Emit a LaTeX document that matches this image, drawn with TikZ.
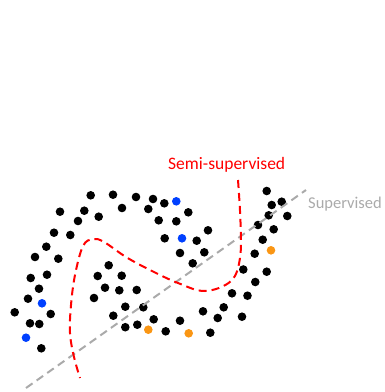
\documentclass[tikz,border=0pt]{standalone}
\usepackage{fontspec}
\setmainfont{Carlito}
\definecolor{dotblue}{RGB}{0,64,255}
\definecolor{dotorange}{RGB}{250,150,20}
\definecolor{lgray}{RGB}{170,170,170}
\definecolor{cred}{RGB}{255,0,0}
\begin{document}
\begin{tikzpicture}[x=1pt,y=-1pt,
  lbl/.style={inner sep=0pt,font=\fontsize{17.5}{20}\selectfont},
  bdot/.style={fill=black},
  boundary/.style={line width=2pt,dash pattern=on 8pt off 5pt}]
\useasboundingbox (0,0) rectangle (385,392);
% black points
\foreach \x/\y in {90.7/195.3,113/194.7,122/208,60/211.7,84.3/210.7,98.7/216.7,78/221,54/232.7,70.3/235,46.3/246.7,35/257,58.3/258.7,30.7/278,47/274.7,39/288.7,28/298.7,14.7/312.3,50.7/314,30/323.3,39.3/324,41.3/348.3,
108.7/265.3,97.7/276,121.7/275.7,105/287.7,119.3/290.3,136.7/290,94/298,125.3/306.7,113.3/315.7,125.3/327.2,
136/197,153/199,164.3/203.3,148.3/209,188.3/212.3,158.7/220.3,176.3/221.3,208/230.3,164.7/238.3,196.7/240.7,180/253,204.3/252.3,192.7/263.3,
143.3/307.3,153.7/319.3,137.3/324.7,165.7/331.3,180/320.7,210.3/332.7,203/311.3,217.7/318,223.7/307.3,232/293.3,247.5/295.7,242/316.7,
243.3/269.5,255.3/282,266.7/271.7,254.7/253.7,262.7/239.7,273.7/229.3,258/225,268.7/215.3,287.3/216,271.7/205,281.7/201.7,266.7/191}
  \fill[bdot] (\x,\y) circle (4.3pt);
% labelled points
\foreach \x/\y in {176.3/201.3,182/238.3,42/303.3,26/337.7}
  \fill[dotblue] (\x,\y) circle (4.3pt);
\foreach \x/\y in {148.3/329.7,188.7/333.3,271/250.3}
  \fill[dotorange] (\x,\y) circle (4.3pt);
% labels
\node[lbl,text=cred] (semi) at (226.7,165) {Semi-supervised};
\node[lbl,text=lgray,font=\fontsize{16.5}{20}\selectfont] (sup) at (345,204.5) {Supervised};
% supervised boundary
\coordinate (s0) at (26,388);
\coordinate (s1) at (306,190);
\draw[boundary,lgray] (s0) -- (s1);
% semi-supervised boundary
\draw[boundary,cred] plot[smooth,tension=0.6] coordinates {(238,180) (240.5,222) (240,258) (231,281) (205,291) (178,283) (150,270) (126,257) (104,242) (93,239) (83,246) (75,275) (71,305) (70,333) (74,357) (80,378)};
\end{tikzpicture}
\end{document}
